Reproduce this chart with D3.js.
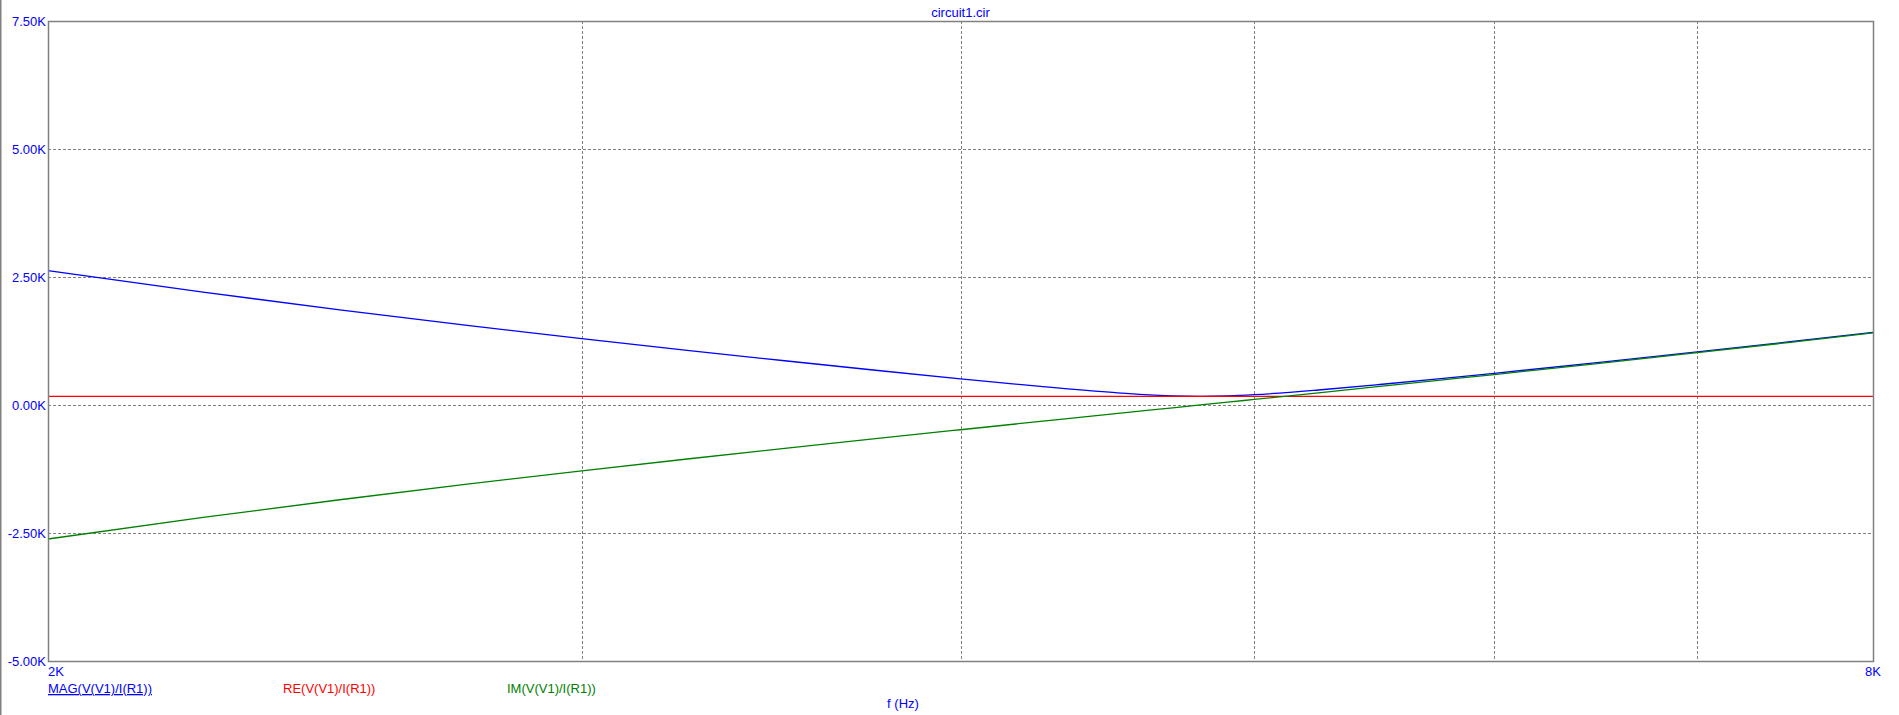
<!DOCTYPE html>
<html>
<head>
<meta charset="utf-8">
<script src="https://cdn.jsdelivr.net/npm/d3@7"></script>
<style>
  html, body { margin: 0; padding: 0; background: #fff; }
  svg { display: block; }
  text { font-family: "Liberation Sans", Arial, sans-serif; font-size: 13px; }
</style>
</head>
<body>
<svg id="chart" width="1899" height="715"></svg>
<script>
// ---- data ----
const title = "circuit1.cir";
const xLabel = "f (Hz)";
const freqs = [2000, 2250, 2500, 2750, 3000, 3250, 3500, 3750, 4000, 4250, 4500, 4600, 4700, 4800, 4900, 5000, 5250, 5500, 5750, 6000, 6500, 7000, 7500, 8000];
const magValues = [2623, 2203, 1854, 1556, 1297, 1068, 864, 679, 512, 363, 240, 203, 179, 170, 179, 202, 293, 400, 510, 619, 832, 1036, 1231, 1420];
const reValues = [170, 170, 170, 170, 170, 170, 170, 170, 170, 170, 170, 170, 170, 170, 170, 170, 170, 170, 170, 170, 170, 170, 170, 170];
const imValues = [-2617, -2196, -1846, -1547, -1286, -1055, -847, -657, -483, -321, -169, -111, -55, 1, 56, 109, 238, 362, 481, 595, 814, 1021, 1219, 1410];
const seriesNames = ["MAG(V(V1)/I(R1))", "RE(V(V1)/I(R1))", "IM(V(V1)/I(R1))"];
const seriesColors = ["#0000ff", "#ff0000", "#008000"];
const yTicks = [-5000, -2500, 0, 2500, 5000, 7500];
const yTickLabels = ["-5.00K", "-2.50K", "0.00K", "2.50K", "5.00K", "7.50K"];
const xGrid = [3000, 4000, 5000, 6000, 7000];
const xTickLabels = [[2000, "2K"], [8000, "8K"]];

// ---- layout ----
const L = 48, R = 1873, T = 21, B = 661;
const svg = d3.select("#chart");
const x = d3.scaleLog().domain([2000, 8000]).range([L, R]);
const y = d3.scaleLinear().domain([-5000, 7500]).range([B, T]);

// window edge line
svg.append("line").attr("x1", 0.5).attr("x2", 0.5).attr("y1", 0).attr("y2", 715)
  .attr("stroke", "#808080").attr("stroke-width", 2);

// grid
const grid = svg.append("g").attr("stroke", "#808080").attr("stroke-width", 1).attr("stroke-dasharray", "3,2");
grid.selectAll("line.h").data(yTicks.filter(v => v > -5000 && v < 7500)).join("line")
  .attr("x1", L).attr("x2", R)
  .attr("y1", d => Math.round(y(d)) + 0.5).attr("y2", d => Math.round(y(d)) + 0.5);
grid.selectAll("line.v").data(xGrid).join("line")
  .attr("y1", T).attr("y2", B)
  .attr("x1", d => Math.round(x(d)) + 0.5).attr("x2", d => Math.round(x(d)) + 0.5);

// series
const line = vals => d3.line().x((d, i) => x(freqs[i])).y(d => y(d)).curve(d3.curveMonotoneX)(vals);
const plot = svg.append("g");
plot.append("path").attr("d", line(magValues)).attr("fill", "none").attr("stroke", seriesColors[0]).attr("stroke-width", 1.3);
plot.append("path").attr("d", line(reValues)).attr("fill", "none").attr("stroke", seriesColors[1]).attr("stroke-width", 1.3);
plot.append("path").attr("d", line(imValues)).attr("fill", "none").attr("stroke", seriesColors[2]).attr("stroke-width", 1.3);

// frame
svg.append("rect").attr("x", L + 0.5).attr("y", T + 0.5).attr("width", R - L).attr("height", B - T)
  .attr("fill", "none").attr("stroke", "#808080").attr("stroke-width", 1.5);

// y labels
svg.selectAll("text.yl").data(yTicks).join("text")
  .attr("x", 46).attr("y", d => y(d)).attr("dy", "0.36em")
  .attr("text-anchor", "end").attr("fill", "#0000ff")
  .text((d, i) => yTickLabels[i]);

// x labels
svg.append("text").attr("x", x(xTickLabels[0][0])).attr("y", 676).attr("fill", "#0000ff")
  .attr("text-anchor", "start").text(xTickLabels[0][1]);
svg.append("text").attr("x", x(xTickLabels[1][0])).attr("y", 676).attr("fill", "#0000ff")
  .attr("text-anchor", "middle").text(xTickLabels[1][1]);

// title
svg.append("text").attr("x", (L + R) / 2).attr("y", 17).attr("fill", "#0000ff")
  .attr("text-anchor", "middle").text(title);

// legend
const legX = [48, 283, 507];
seriesNames.forEach((n, i) => {
  const t = svg.append("text").attr("x", legX[i]).attr("y", 693).attr("fill", seriesColors[i]).text(n);
  if (i === 0) t.attr("text-decoration", "underline");
});

// x axis title
svg.append("text").attr("x", 903).attr("y", 708).attr("fill", "#0000ff")
  .attr("text-anchor", "middle").text(xLabel);
</script>
</body>
</html>
